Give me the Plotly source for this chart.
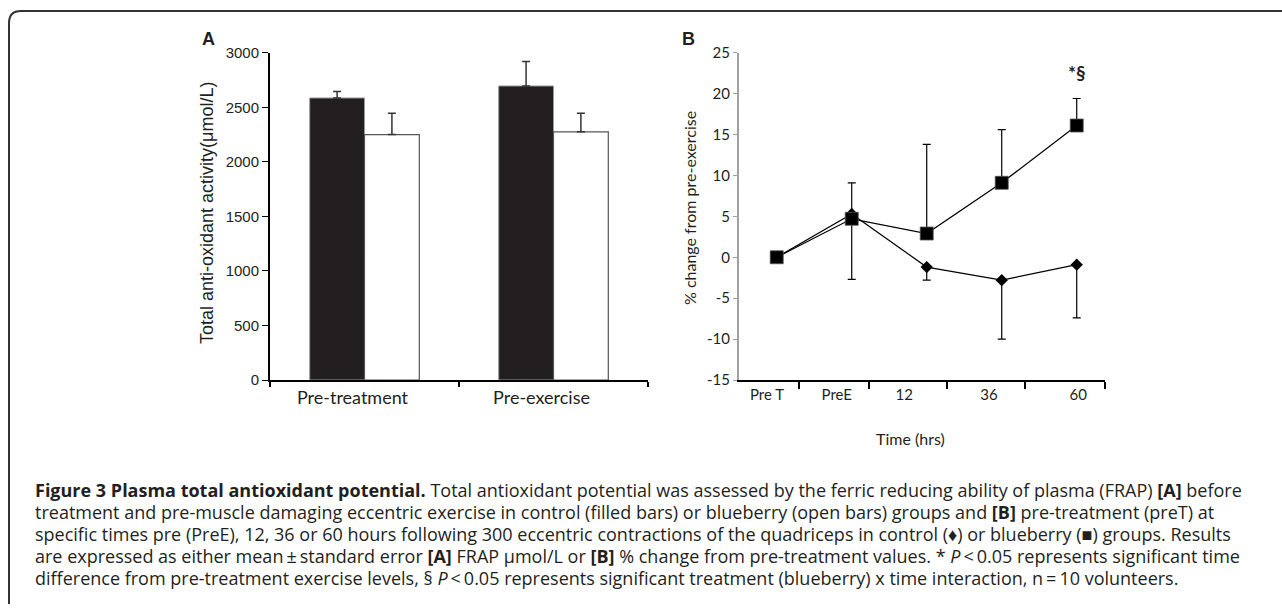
import plotly.graph_objects as go

# ---------------- Data ----------------
# Panel A: FRAP (umol/L), mean and upper standard error
groups = ["Pre-treatment", "Pre-exercise"]
control_mean = [2585, 2695]
control_se = [60, 225]
blueberry_mean = [2250, 2275]
blueberry_se = [195, 170]
a_ticks = [0, 500, 1000, 1500, 2000, 2500, 3000]

# Panel B: % change from pre-exercise
time_labels = ["Pre T", "PreE", "12", "36", "60"]
time_idx = [0, 1, 2, 3, 4]
control_pct = [0, 5.3, -1.2, -2.8, -0.9]
control_pct_err = [0, 8.0, 1.6, 7.2, 6.5]       # drawn downward
blueberry_pct = [0, 4.7, 2.9, 9.1, 16.1]
blueberry_pct_err = [0, 4.4, 10.9, 6.5, 3.3]    # drawn upward
b_ticks = [-15, -10, -5, 0, 5, 10, 15, 20, 25]

# ---------------- Layout constants ----------------
W, H = 1282, 613
def px(x):
    return x / W
def py(y):
    return 1 - y / H

y_dom = [py(380), py(52.7)]
xa_dom = [px(270), px(648)]
xb_dom = [px(739), px(1105)]

# x-axis B: label positions and tick-mark positions (in index units)
b_label_pos = [-0.13, 0.80, 1.70, 2.83, 4.02]
b_tick_pos = [0.297, 1.231, 2.271, 3.311, 4.377]
b_range = [-0.503, 4.377]

TXT = "#231f20"
CAL = "Lato"
ARIAL = "Liberation Sans"
CAP = "Open Sans"

fig = go.Figure()

# Panel A bars
fig.add_trace(go.Bar(
    x=groups, y=control_mean, name="Control",
    marker=dict(color="#231f20", line=dict(color="#9a9a9a", width=1)),
    error_y=dict(type="data", symmetric=False, array=control_se,
                 arrayminus=[0] * len(control_se), color="#333333",
                 thickness=1.5, width=4),
    xaxis="x", yaxis="y"))
fig.add_trace(go.Bar(
    x=groups, y=blueberry_mean, name="Blueberry",
    marker=dict(color="white", line=dict(color="#555555", width=1.2)),
    error_y=dict(type="data", symmetric=False, array=blueberry_se,
                 arrayminus=[0] * len(blueberry_se), color="#333333",
                 thickness=1.5, width=4),
    xaxis="x", yaxis="y"))

# Panel B lines
fig.add_trace(go.Scatter(
    x=time_idx, y=control_pct, mode="lines+markers", name="Control",
    line=dict(color="black", width=1.2),
    marker=dict(symbol="diamond", size=9.5, color="black"),
    error_y=dict(type="data", symmetric=False, array=[0] * len(control_pct_err),
                 arrayminus=control_pct_err, color="black", thickness=1.2, width=4),
    xaxis="x2", yaxis="y2"))
fig.add_trace(go.Scatter(
    x=time_idx, y=blueberry_pct, mode="lines+markers", name="Blueberry",
    line=dict(color="black", width=1.2),
    marker=dict(symbol="square", size=13, color="black",
                line=dict(color="#555555", width=0.8)),
    error_y=dict(type="data", symmetric=False, array=blueberry_pct_err,
                 arrayminus=[0] * len(blueberry_pct_err), color="black",
                 thickness=1.2, width=4),
    xaxis="x2", yaxis="y2"))

fig.update_layout(
    width=W, height=H, margin=dict(l=0, r=0, t=0, b=0, autoexpand=False),
    paper_bgcolor="white", plot_bgcolor="white", showlegend=False,
    barmode="group", bargap=0.42, bargroupgap=0,
    xaxis=dict(domain=xa_dom, anchor="y", type="category",
               showline=True, linecolor="black", linewidth=2,
               ticks="outside", tickson="boundaries", ticklen=5,
               tickcolor="black", tickwidth=1.5,
               tickfont=dict(family=CAL, size=18, color=TXT),
               ticklabelshift=-12, showgrid=False, zeroline=False),
    yaxis=dict(domain=y_dom, anchor="x", range=[0, 3000],
               tickmode="array", tickvals=a_ticks,
               ticktext=[str(v) for v in a_ticks],
               showline=True, linecolor="black", linewidth=2,
               ticks="outside", ticklen=6, tickcolor="black", tickwidth=1,
               tickfont=dict(family=ARIAL, size=15, color=TXT),
               showgrid=False, zeroline=False),
    xaxis2=dict(domain=xb_dom, anchor="y2", range=b_range,
                tickmode="array", tickvals=b_label_pos, ticktext=time_labels,
                ticks="", showline=True, linecolor="black", linewidth=2,
                tickfont=dict(family=CAL, size=15, color=TXT),
                minor=dict(tickmode="array", tickvals=b_tick_pos,
                           ticks="outside", ticklen=7, tickwidth=2,
                           tickcolor="black", showgrid=False),
                showgrid=False, zeroline=False),
    yaxis2=dict(domain=y_dom, anchor="x2", range=[-15, 25],
                tickmode="array", tickvals=b_ticks,
                ticktext=[str(v) for v in b_ticks],
                showline=True, linecolor="#a0a0a0", linewidth=2,
                ticks="outside", ticklen=4, tickcolor="#a0a0a0", tickwidth=1,
                tickfont=dict(family=CAL, size=15, color=TXT),
                showgrid=False, zeroline=False),
)

def note(text, x, y, size, family, angle=0, xref="paper", yref="paper"):
    return dict(text=text, x=x, y=y, xref=xref, yref=yref, xanchor="center",
                yanchor="middle", textangle=angle, showarrow=False,
                font=dict(family=family, size=size, color=TXT))

ann = [
    note("<b>A</b>", px(208), py(39), 18, ARIAL),
    note("<b>B</b>", px(689), py(39), 18, ARIAL),
    note("Total anti-oxidant activity(\u03bcmol/L)", px(207), py(213), 18, ARIAL, -90),
    note("% change from pre-exercise", px(689), py(208), 16, CAL, -90),
    note("Time (hrs)", px(910), py(438), 16, CAL),
    note("<b>*\u00a7</b>", time_idx[-1], 22.6, 19, CAL, xref="x2", yref="y2"),
]

caption = [
    "<b>Figure 3 Plasma total antioxidant potential.</b> Total antioxidant potential was assessed by the ferric reducing ability of plasma (FRAP) <b>[A]</b> before",
    "treatment and pre-muscle damaging eccentric exercise in control (filled bars) or blueberry (open bars) groups and <b>[B]</b> pre-treatment (preT) at",
    "specific times pre (PreE), 12, 36 or 60 hours following 300 eccentric contractions of the quadriceps in control (\u2666) or blueberry (\u25a0) groups. Results",
    "are expressed as either mean\u2009\u00b1\u2009standard error <b>[A]</b> FRAP \u03bcmol/L or <b>[B]</b> % change from pre-treatment values. * <i>P</i>\u2009<\u20090.05 represents significant time",
    "difference from pre-treatment exercise levels, \u00a7 <i>P</i>\u2009<\u20090.05 represents significant treatment (blueberry) x time interaction, n\u2009=\u200910 volunteers.",
]
for i, line in enumerate(caption):
    ann.append(dict(text=line, x=px(33), y=py(490 + i * 22), xref="paper", yref="paper",
                    xanchor="left", yanchor="middle", showarrow=False, align="left",
                    font=dict(family=CAP, size=18, color=TXT)))
fig.update_layout(annotations=ann)

# Outer frame (top and left edges with rounded corner)
x0, y0 = px(9), py(11)
r_x, r_y = 12 / W, 12 / H
frame = (f"M {x0},{py(604)} L {x0},{y0 - r_y} Q {x0},{y0} {x0 + r_x},{y0} L 1,{y0}")
fig.add_shape(type="path", path=frame, xref="paper", yref="paper",
              line=dict(color="#333333", width=2))

fig.write_html("out.html")

# make sure the page has no default body margin
with open("out.html", "r", encoding="utf-8") as f:
    html = f.read()
html = html.replace("<head>", "<head><style>html,body{margin:0;padding:0;}</style>", 1)
with open("out.html", "w", encoding="utf-8") as f:
    f.write(html)
